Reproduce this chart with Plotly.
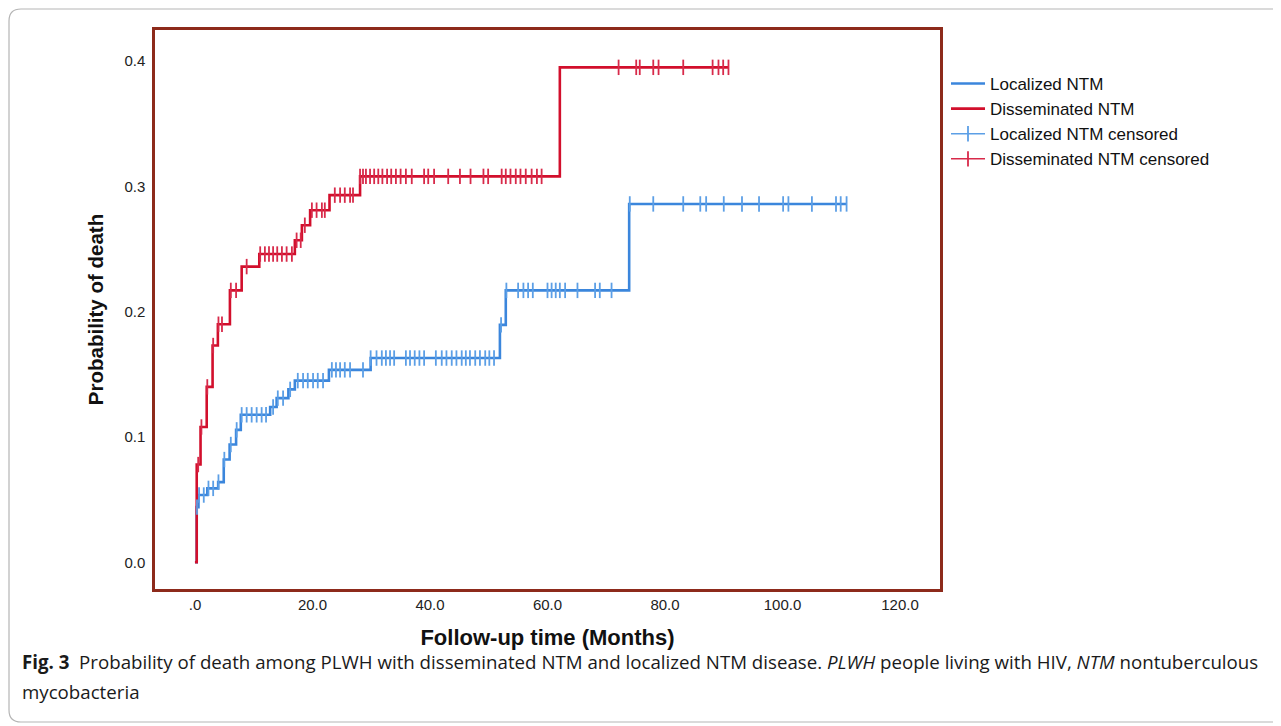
import plotly.graph_objects as go

# ---------------- data ----------------
loc_times = [0, 0.3, 0.6, 2.1, 3.95, 4.9, 5.9, 7.0, 7.8, 12.8, 13.9, 15.9, 17.0,
             22.8, 29.9, 51.9, 52.9, 73.9, 110.9]
loc_prob = [0, 0.044, 0.0537, 0.059, 0.064, 0.082, 0.094, 0.1057, 0.1177, 0.124,
            0.131, 0.138, 0.145, 0.1536, 0.163, 0.1895, 0.217, 0.286, 0.286]

dis_times = [0, 0.3, 0.95, 2.0, 3.0, 3.9, 5.95, 7.95, 10.95, 17.0, 18.2, 19.6,
             22.9, 28.1, 62.1, 90.8]
dis_prob = [0, 0.078, 0.108, 0.140, 0.173, 0.190, 0.217, 0.236, 0.246, 0.257,
            0.269, 0.281, 0.293, 0.308, 0.395, 0.395]

loc_censor = [0.35, 0.7, 1.5, 2.3, 3.1, 4.0, 5.0, 6.1, 7.1, 7.95, 8.8, 9.65, 10.5,
              11.35, 12.1, 13.3, 14.1, 15.0, 16.2, 17.5, 18.4, 19.2, 20.1, 20.9,
              21.8, 23.3, 24.0, 24.7, 25.5, 26.4, 28.6, 29.9, 30.9, 31.8, 32.5,
              33.2, 33.9, 35.9, 36.6, 37.4, 38.2, 39.0, 41.0, 42.0, 42.8, 43.7,
              44.5, 45.4, 46.1, 46.8, 47.7, 48.5, 49.4, 50.1, 50.9, 52.1, 53.0,
              55.0, 55.9, 56.7, 57.5, 60.0, 60.7, 61.4, 62.1, 63.0, 65.1, 68.1,
              68.9, 70.9, 74.0, 78.0, 83.1, 86.0, 87.0, 90.0, 93.1, 96.0, 100.1,
              101.0, 105.0, 109.1, 109.9, 110.9]

dis_censor = [0.55, 1.1, 2.1, 3.1, 4.0, 4.6, 6.1, 7.0, 8.8, 11.1, 11.9, 12.6, 13.3,
              14.0, 14.8, 15.6, 16.5, 17.3, 18.0, 18.7, 19.9, 20.7, 21.6, 22.1,
              23.8, 24.7, 25.5, 26.4, 26.9, 28.1, 28.6, 29.1, 29.8, 30.5, 31.2,
              31.9, 32.7, 33.4, 34.2, 35.0, 35.9, 36.9, 39.0, 39.7, 40.7, 43.1,
              45.1, 46.9, 49.1, 49.9, 52.2, 52.9, 53.7, 54.6, 55.4, 56.3, 57.3,
              58.2, 59.0, 72.1, 75.1, 75.7, 78.0, 78.9, 83.1, 88.1, 89.1, 89.9,
              90.8]

series_names = ["Localized NTM", "Disseminated NTM",
                "Localized NTM censored", "Disseminated NTM censored"]

x_tickvals = [0, 20, 40, 60, 80, 100, 120]
x_ticktext = [".0", "20.0", "40.0", "60.0", "80.0", "100.0", "120.0"]
y_tickvals = [0.0, 0.1, 0.2, 0.3, 0.4]
y_ticktext = ["0.0", "0.1", "0.2", "0.3", "0.4"]

x_title = "Follow-up time (Months)"
y_title = "Probability of death"
caption_1 = ("<b>Fig. 3</b>  Probability of death among PLWH with disseminated NTM and "
             "localized NTM disease. <i>PLWH</i> people living with HIV, <i>NTM</i> "
             "nontuberculous")
caption_2 = "mycobacteria"

# ---------------- helpers ----------------
def step_value(times, probs, t):
    v = probs[0]
    for tt, pp in zip(times, probs):
        if tt <= t + 1e-9:
            v = pp
        else:
            break
    return v

def gapped(xs, ys):
    gx, gy = [], []
    for a, b in zip(xs, ys):
        gx += [a, None]
        gy += [b, None]
    return gx, gy

BLUE = "#3b86dc"
RED = "#d20f2c"
BLUE_C = "#5c9fe6"
RED_C = "#d82a4a"
FRAME = "#8d2a1b"

OFF = 8  # page body margin
W, H = 1281 - OFF, 726 - OFF
L, R, T, B = 155 - OFF, 940 - OFF, 30 - OFF, 589 - OFF

def px(xs):  # screen x -> paper
    return (xs - OFF - L) / (R - L)

def py(ys):  # screen y -> paper
    return (B - (ys - OFF)) / (B - T)

fig = go.Figure()

fig.add_trace(go.Scatter(x=loc_times, y=loc_prob, mode="lines", name=series_names[0],
                         line=dict(color=BLUE, width=2.6, shape="hv")))
fig.add_trace(go.Scatter(x=dis_times, y=dis_prob, mode="lines", name=series_names[1],
                         line=dict(color=RED, width=2.6, shape="hv")))

lcx, lcy = gapped(loc_censor, [step_value(loc_times, loc_prob, t) for t in loc_censor])
dcx, dcy = gapped(dis_censor, [step_value(dis_times, dis_prob, t) for t in dis_censor])

fig.add_trace(go.Scatter(x=lcx, y=lcy, mode="lines+markers", name=series_names[2],
                         connectgaps=False,
                         line=dict(color=BLUE_C, width=1.5),
                         marker=dict(symbol="line-ns", size=11,
                                     line=dict(color=BLUE_C, width=1.8))))
fig.add_trace(go.Scatter(x=dcx, y=dcy, mode="lines+markers", name=series_names[3],
                         connectgaps=False,
                         line=dict(color=RED_C, width=1.5),
                         marker=dict(symbol="line-ns", size=11,
                                     line=dict(color=RED_C, width=1.8))))

axis_font = dict(family="Liberation Sans, Arial, sans-serif", size=15, color="#222")

fig.update_xaxes(range=[-6.8, 126.8], tickvals=x_tickvals, ticktext=x_ticktext,
                 showgrid=False, zeroline=False, showline=True, mirror=True,
                 linecolor=FRAME, linewidth=2.5, ticks="", ticklabelstandoff=0,
                 tickfont=axis_font,
                 title=dict(text="<b>" + x_title + "</b>",
                            font=dict(family="Liberation Sans, Arial, sans-serif",
                                      size=22, color="#111"), standoff=18))
fig.update_yaxes(range=[-0.0213, 0.4248], tickvals=y_tickvals, ticktext=y_ticktext,
                 showgrid=False, zeroline=False, showline=True, mirror=True,
                 linecolor=FRAME, linewidth=2.5, ticks="", ticklabelstandoff=4,
                 tickfont=axis_font,
                 title=dict(text="<b>" + y_title + "</b>",
                            font=dict(family="Liberation Sans, Arial, sans-serif",
                                      size=20.5, color="#111"), standoff=16))

# outer rounded frame (screen coords)
x0, x1, y0, y1, r = 9, 1300, 9, 722, 12
rx, ry = r / (R - L), r / (B - T)
path = (f"M {px(x0)},{py(y0) - ry} L {px(x0)},{py(y1) + ry} "
        f"Q {px(x0)},{py(y1)} {px(x0) + rx},{py(y1)} L {px(x1)},{py(y1)} "
        f"M {px(x1)},{py(y0)} L {px(x0) + rx},{py(y0)} "
        f"Q {px(x0)},{py(y0)} {px(x0)},{py(y0) - ry}")
fig.add_shape(type="path", xref="paper", yref="paper", path=path,
              line=dict(color="#b5b5b5", width=1.2), layer="below")

cap_font = dict(family="Open Sans, Noto Sans, sans-serif", size=18.7, color="#1a1a1a")
fig.add_annotation(xref="paper", yref="paper", x=px(20), y=py(661), xanchor="left",
                   yanchor="middle", text=caption_1, showarrow=False, font=cap_font)
fig.add_annotation(xref="paper", yref="paper", x=px(20), y=py(691), xanchor="left",
                   yanchor="middle", text=caption_2, showarrow=False, font=cap_font)

fig.update_layout(
    width=W, height=H,
    margin=dict(l=L, r=W - R, t=T, b=H - B, autoexpand=False),
    paper_bgcolor="white", plot_bgcolor="white",
    showlegend=True,
    legend=dict(x=px(946), y=py(66), xanchor="left", yanchor="top",
                font=dict(family="Liberation Sans, Arial, sans-serif", size=17,
                          color="#111"),
                bgcolor="rgba(0,0,0,0)", itemwidth=34, tracegroupgap=0),
)

fig.write_html("out.html")
